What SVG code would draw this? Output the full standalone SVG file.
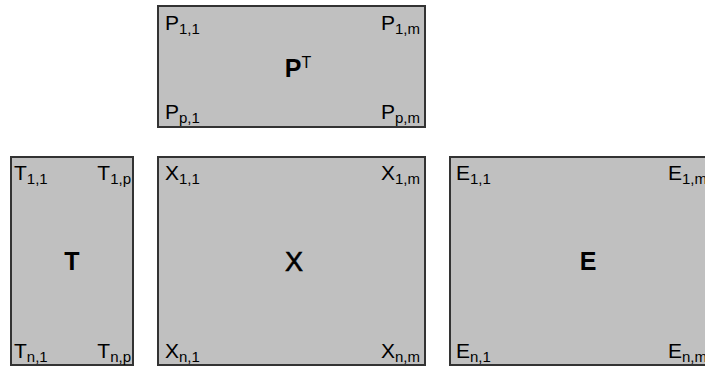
<svg xmlns="http://www.w3.org/2000/svg" width="705" height="376" viewBox="0 0 705 376">
<style>
rect.box{fill:#c0c0c0;stroke:#333;stroke-width:2}
text{font-family:"Liberation Sans",Arial,sans-serif;fill:#000}
.c{font-size:21px}
.s{font-size:15px}
.big{font-size:25px;font-weight:bold;text-anchor:middle}
.e{text-anchor:end}
</style>
<rect width="705" height="376" fill="#fff"/>
<g id="PT">
<rect class="box" x="158" y="6" width="267" height="121"/>
<text class="c" x="165" y="30">P<tspan class="s" dy="4">1,1</tspan></text>
<text class="c e" x="420" y="30">P<tspan class="s" dy="4">1,m</tspan></text>
<text class="c" x="165" y="119">P<tspan class="s" dy="4">p,1</tspan></text>
<text class="c e" x="420" y="119">P<tspan class="s" dy="4">p,m</tspan></text>
<text class="big" x="298" y="77">P<tspan style="font-size:16px;font-weight:normal" dy="-9">T</tspan></text>
</g>
<g id="T">
<rect class="box" x="11" y="157" width="122" height="208"/>
<text class="c" x="14" y="180">T<tspan class="s" dy="4">1,1</tspan></text>
<text class="c e" x="131" y="180">T<tspan class="s" dy="4">1,p</tspan></text>
<text class="c" x="14" y="358">T<tspan class="s" dy="4">n,1</tspan></text>
<text class="c e" x="131" y="358">T<tspan class="s" dy="4">n,p</tspan></text>
<text class="big" x="72" y="270">T</text>
</g>
<g id="X">
<rect class="box" x="158" y="157" width="267" height="208"/>
<text class="c" x="165" y="180">X<tspan class="s" dy="4">1,1</tspan></text>
<text class="c e" x="420" y="180">X<tspan class="s" dy="4">1,m</tspan></text>
<text class="c" x="165" y="358">X<tspan class="s" dy="4">n,1</tspan></text>
<text class="c e" x="420" y="358">X<tspan class="s" dy="4">n,m</tspan></text>
<text class="big" x="294" y="271" style="font-weight:normal;font-size:27px;stroke:#000;stroke-width:0.6">X</text>
</g>
<g id="E">
<rect class="box" x="450" y="157" width="280" height="208"/>
<text class="c" x="456" y="180">E<tspan class="s" dy="4">1,1</tspan></text>
<text class="c" x="668" y="180">E<tspan class="s" dy="4">1,m</tspan></text>
<text class="c" x="456" y="358">E<tspan class="s" dy="4">n,1</tspan></text>
<text class="c" x="668" y="358">E<tspan class="s" dy="4">n,m</tspan></text>
<text class="big" x="588" y="270">E</text>
</g>
<g id="connectors"/>
</svg>
